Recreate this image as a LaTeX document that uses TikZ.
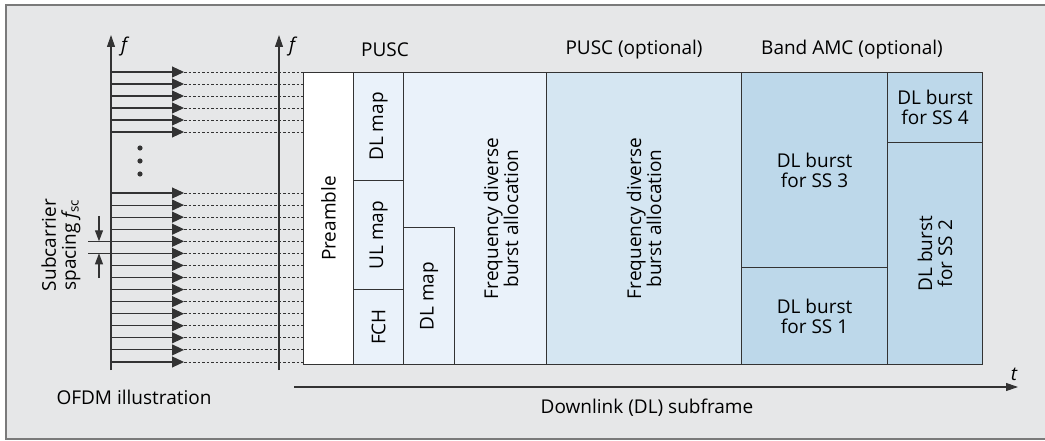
\documentclass[tikz,border=0pt]{standalone}
\usepackage{fontspec}
\setmainfont{Open Sans}
\usetikzlibrary{arrows.meta, positioning, calc}
\definecolor{cback}{HTML}{E6E7E8}
\definecolor{cframe}{HTML}{7A7A7A}
\definecolor{cline}{HTML}{333333}
\definecolor{cpusc}{HTML}{EAF2FA}
\definecolor{copt}{HTML}{D5E6F2}
\definecolor{camc}{HTML}{BDD8EA}
\tikzset{
  every picture/.style={line width=1.1pt, x=1pt, y=-1pt},
  every node/.append style={font=\fontsize{19}{20}\selectfont, text=black},
  cell/.style={draw=cline, fill=#1, anchor=north west, inner sep=0pt},
  cell/.default=white,
  carrier/.style={-{Triangle[length=12pt, width=11pt]}, draw=cline, line width=1.1pt},
  tail/.style={draw=cline, dash pattern=on 2.5pt off 2pt, line width=0.9pt},
  axis/.style={-{Triangle[length=12pt, width=8pt]}, draw=cline, line width=1.1pt},
  tick/.style={-{Triangle[length=11pt, width=8pt]}, draw=cline, line width=1.1pt},
  txt/.style={align=center, inner sep=1pt},
  var/.style={font=\fontsize{19}{20}\selectfont\itshape, inner sep=0pt},
}
\begin{document}
\begin{tikzpicture}
  \useasboundingbox (0,0) rectangle (1045,441);
  \fill[cback] (6,5) rectangle (1045,439);
  \draw[cframe, line width=2pt] (1045,5) -- (6,5) -- (6,439) -- (1045,439);

  % OFDM illustration
  \coordinate (f1lo) at (111,370);
  \coordinate (f1hi) at (111,35);
  \coordinate (f2lo) at (279,370);
  \coordinate (f2hi) at (279,35);
  \draw[axis] (f1lo) -- (f1hi);
  \draw[axis] (f2lo) -- (f2hi);
  \node[var] (f1) at (124,47) {f};
  \node[var] (f2) at (292,47) {f};
  \foreach \y in {72,84,...,132,193,205.07,...,363} {
    \draw[carrier] (111,\y) -- (184,\y);
    \draw[tail] (184,\y) -- (303,\y);
  }
  \foreach \y in {148,161,174} \fill[cline] (140,\y) circle (2.6pt);
  % subcarrier spacing
  \draw[cline] (88,241.28) -- (111,241.28);
  \draw[cline] (88,253.35) -- (111,253.35);
  \draw[tick] (99,216) -- (99,241.28);
  \draw[tick] (99,278) -- (99,253.35);
  \node[txt, rotate=90] (spc) at (61,245) {Subcarrier\\spacing {\itshape f}\textsubscript{sc}};
  \node[txt] (ofdm) at (134,397) {OFDM illustration};

  % downlink subframe
  \node[cell, minimum width=50pt, minimum height=292pt] (pre) at (303,72) {};
  \node[cell=cpusc, minimum width=50pt, minimum height=108pt] (dlm) at (353,72) {};
  \node[cell=cpusc, minimum width=50pt, minimum height=109pt] (ulm) at (353,180) {};
  \node[cell=cpusc, minimum width=50pt, minimum height=75pt] (fch) at (353,289) {};
  \node[cell=cpusc, minimum width=143pt, minimum height=292pt] (fd1) at (403,72) {};
  \node[cell=cpusc, minimum width=51pt, minimum height=137pt] (dlm2) at (403,227) {};
  \node[cell=copt, minimum width=195pt, minimum height=292pt] (fd2) at (546,72) {};
  \node[cell=camc, minimum width=146pt, minimum height=195pt] (ss3) at (741,72) {};
  \node[cell=camc, minimum width=146pt, minimum height=97pt] (ss1) at (741,267) {};
  \node[cell=camc, minimum width=95pt, minimum height=70pt] (ss4) at (887,72) {};
  \node[cell=camc, minimum width=95pt, minimum height=222pt] (ss2) at (887,142) {};

  \node[txt, rotate=90] (tpre) at (pre) {Preamble};
  \node[txt, rotate=90] (tdlm) at (dlm) {DL map};
  \node[txt, rotate=90] (tulm) at (ulm) {UL map};
  \node[txt, rotate=90] (tfch) at (fch) {FCH};
  \node[txt, rotate=90] (tdlm2) at (dlm2) {DL map};
  \node[txt, rotate=90] (tfd1) at ($(dlm2.east |- fd1.center)!0.5!(fd1.east)$) {Frequency diverse\\burst allocation};
  \node[txt, rotate=90] (tfd2) at (fd2) {Frequency diverse\\burst allocation};
  \node[txt] (tss3) at (ss3) {DL burst\\for SS 3};
  \node[txt] (tss1) at (ss1) {DL burst\\for SS 1};
  \node[txt] (tss4) at (ss4) {DL burst\\for SS 4};
  \node[txt, rotate=90] (tss2) at (ss2) {DL burst\\for SS 2};

  % headers
  \node[txt] (hpusc) at (385,50) {PUSC};
  \node[txt] (hopt) at (634,50) {PUSC (optional)};
  \node[txt] (hamc) at (852,50) {Band AMC (optional)};

  % time axis
  \coordinate (t0) at (294,387);
  \coordinate (t1) at (1018,387);
  \draw[axis] (t0) -- (t1);
  \node[var] (tl) at (1014,374) {t};
  \node[txt] (dl) at (647,408) {Downlink (DL) subframe};
\end{tikzpicture}
\end{document}
